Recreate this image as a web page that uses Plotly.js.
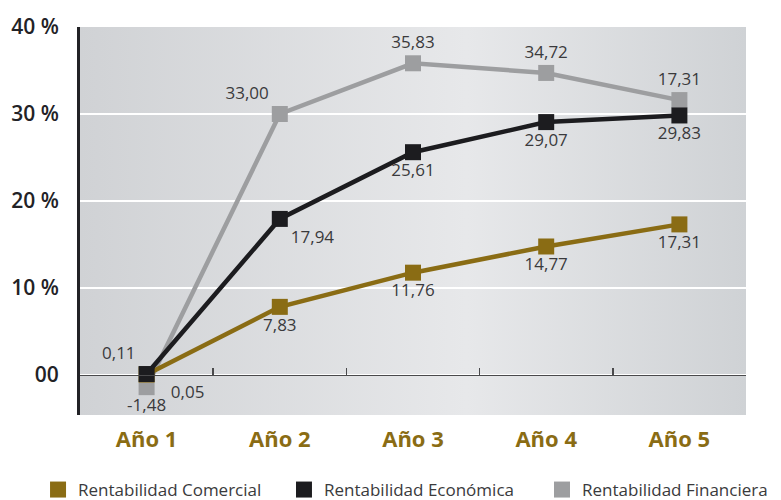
<!DOCTYPE html>
<html><head><meta charset="utf-8">
<script src="https://cdn.plot.ly/plotly-3.0.1.min.js"></script>
<style>html,body{margin:0;padding:0;background:#fff}#chart{width:781px;height:500px}</style>
</head><body><div id="chart"></div>
<script>
const categories = ["Año 1", "Año 2", "Año 3", "Año 4", "Año 5"];
const seriesNames = ["Rentabilidad Comercial", "Rentabilidad Económica", "Rentabilidad Financiera"];
const comercial = [0.05, 7.83, 11.76, 14.77, 17.31];
const comercialLabels = ["\u00a0\u00a0\u00a00,05", "7,83", "11,76", "14,77", "17,31"];
const economica = [0.11, 17.94, 25.61, 29.07, 29.83];
const economicaLabels = ["0,11", "17,94", "25,61", "29,07", "29,83"];
const financiera = [-1.4, 30.0, 35.83, 34.72, 31.6];
const financieraLabels = ["-1,48", "33,00", "35,83", "34,72", "17,31"];
const yTickVals = [0, 10, 20, 30, 40];
const yTickText = ["00", "10 %", "20 %", "30 %", "40 %"];

const colors = ["#8a6c14", "#1c1c1f", "#9d9ea0"];
const xi = categories.map((c, i) => i);
const labelFont = {family: "Open Sans, Noto Sans, sans-serif", size: 17, color: "#3a3a3c"};

function series(y, labels, color, pos) {
  return {
    x: xi, y: y, text: labels, type: "scatter", mode: "lines+markers+text",
    line: {color: color, width: 4.5},
    marker: {symbol: "square", size: 16, color: color},
    textposition: pos, textfont: labelFont, cliponaxis: false,
    showlegend: false, hoverinfo: "skip"
  };
}

const traces = [
  series(financiera, financieraLabels, colors[2], ["bottom center", "top left", "top center", "top center", "top center"]),
  series(comercial, comercialLabels, colors[0], ["bottom right", "bottom center", "bottom center", "bottom center", "bottom center"]),
  series(economica, economicaLabels, colors[1], ["top left", "bottom right", "bottom center", "bottom center", "bottom center"])
];
const legendIds = ["legend", "legend2", "legend3"];
seriesNames.forEach((n, k) => {
  traces.push({x: [null], y: [null], xaxis: "x2", type: "scatter", mode: "markers", name: n,
    legend: legendIds[k],
    marker: {symbol: "square", size: 18, color: colors[k]}, showlegend: true, hoverinfo: "skip"});
});

const yMin = -4.6, yMax = 40;
const grad = "data:image/svg+xml;charset=utf-8," + encodeURIComponent(
  '<svg xmlns="http://www.w3.org/2000/svg" width="100" height="100" preserveAspectRatio="none">' +
  '<defs><linearGradient id="g" x1="0" y1="0" x2="1" y2="0">' +
  '<stop offset="0" stop-color="#d0d2d5"/><stop offset="0.58" stop-color="#e7e8ea"/><stop offset="1" stop-color="#cfd2d5"/>' +
  '</linearGradient></defs><rect width="100" height="100" fill="url(#g)"/></svg>');

function legendAt(x) {
  return {orientation: "h", xref: "container", yref: "container", x: x, xanchor: "left",
    y: 0.02, yanchor: "middle",
    font: {family: "Open Sans, Noto Sans, sans-serif", size: 17, color: "#3a3a3c"},
    itemwidth: 30, bgcolor: "rgba(0,0,0,0)"};
}

const layout = {
  width: 781, height: 500,
  margin: {l: 80, r: 35, t: 27, b: 85},
  paper_bgcolor: "#ffffff",
  plot_bgcolor: "rgba(0,0,0,0)",
  images: [{source: grad, xref: "x", yref: "y", x: -0.5, y: yMax, sizex: 5, sizey: yMax - yMin,
    sizing: "stretch", layer: "below", xanchor: "left", yanchor: "top"}],
  xaxis: {range: [-0.5, 4.5], tickvals: xi, ticktext: categories, showgrid: false, zeroline: false,
    showline: false, ticks: "", ticklabelstandoff: 9,
    tickfont: {family: "Open Sans, Noto Sans, sans-serif", size: 22, color: "#8a6c14", weight: "bold"}},
  xaxis2: {range: [-0.5, 4.5], overlaying: "x", anchor: "free", position: (0 - yMin) / (yMax - yMin),
    side: "bottom", showline: true, linecolor: "#4a4a4c", linewidth: 1.5, ticks: "inside", ticklen: 7,
    tickwidth: 1.5, tickcolor: "#4a4a4c", tickvals: [0.5, 1.5, 2.5, 3.5, 4.5], showticklabels: false,
    showgrid: false, zeroline: false},
  yaxis: {range: [yMin, yMax], tickvals: yTickVals, ticktext: yTickText, showgrid: true,
    gridcolor: "#ffffff", gridwidth: 2.5, zeroline: false, showline: true, linecolor: "#222226",
    linewidth: 3, ticks: "", ticklabelstandoff: 14,
    tickfont: {family: "Open Sans, Noto Sans, sans-serif", size: 21, color: "#222226", weight: 600}},
  legend: legendAt(0.0487),
  legend2: legendAt(0.3636),
  legend3: legendAt(0.694),
  showlegend: true
};

Plotly.newPlot("chart", traces, layout, {displayModeBar: false, staticPlot: true});
</script></body></html>
